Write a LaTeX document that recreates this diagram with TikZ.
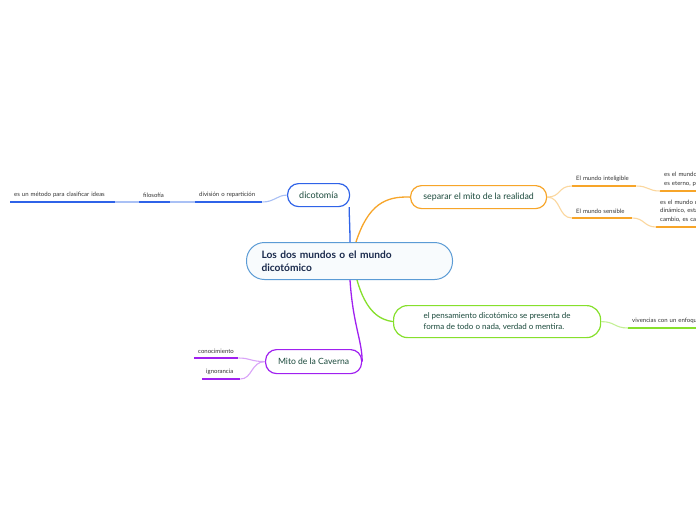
\documentclass[tikz,border=0pt]{standalone}
\usepackage{fontspec}
\setmainfont{Lato}
\definecolor{cblue}{HTML}{2F63E8}
\definecolor{cblueL}{HTML}{A9C0F5}
\definecolor{cmain}{HTML}{5B9BD5}
\definecolor{corange}{HTML}{F7A529}
\definecolor{corangeL}{HTML}{FBD79E}
\definecolor{cgreen}{HTML}{86E02C}
\definecolor{cgreenL}{HTML}{C4F096}
\definecolor{cpurple}{HTML}{A020F0}
\definecolor{cpurpleL}{HTML}{D9A3F8}
\definecolor{ctext}{HTML}{1B4A3C}
\definecolor{cnavy}{HTML}{1A2A4C}
\begin{document}
\begin{tikzpicture}[x=1pt,y=-1pt,
  topic/.style={draw, line width=1.2pt, rounded corners=11pt, fill=white, text=ctext, font=\fontsize{8.8}{10}\selectfont, inner xsep=8pt, inner ysep=0pt, align=left},
  leaf/.style={anchor=south west, inner xsep=4pt, inner ysep=4.5pt, font=\fontsize{6}{8.6}\selectfont, text=black!80, align=left, text width=#1},
  ul/.style={line width=1.8pt},
  conn/.style={line width=1.1pt},
  mconn/.style={line width=1.3pt}]
\useasboundingbox (0,0) rectangle (696,520);
\clip (0,0) rectangle (696,520);
\fill[white] (0,0) rectangle (696,520);

% central
\node[draw=cmain, line width=1pt, rounded corners=18pt, fill=cmain!4, text=cnavy, font=\fontsize{10.2}{13}\selectfont\bfseries, minimum width=206pt, minimum height=37pt, text width=176pt, align=left, anchor=north west, inner xsep=15pt] (c) at (246,242) {Los dos mundos o el mundo\\dicotómico};

% main topics
\node[topic, draw=cblue, minimum width=62pt, minimum height=23pt, anchor=north west, font=\fontsize{9}{10}\selectfont] (dic) at (287,183) {dicotomía};
\node[topic, draw=corange, minimum width=136pt, minimum height=23pt, anchor=north west] (sep) at (410,185) {separar el mito de la realidad};
\node[topic, draw=cgreen, minimum width=207pt, minimum height=32pt, anchor=north west, inner xsep=15pt, rounded corners=14pt, font=\fontsize{8}{11}\selectfont] (gre) at (393,305) {el pensamiento dicotómico se presenta de\\forma de todo o nada, verdad o mentira.};
\node[topic, draw=cpurple, minimum width=96pt, minimum height=24pt, anchor=north west, font=\fontsize{8.6}{10}\selectfont] (mito) at (265,349) {Mito de la Caverna};

% main connectors
\draw[mconn, cblue] ([xshift=104pt]c.north west) .. controls +(0,-15) and +(0,10) .. ([xshift=-1pt]dic.south east);
\draw[mconn, corange] ([xshift=110pt]c.north west) .. controls (368,205) and (385,196) .. (sep.west);
\draw[mconn, cgreen] ([xshift=111pt]c.south west) .. controls (366,312) and (380,320) .. (gre.west);
\draw[mconn, cpurple] ([xshift=104pt]c.south west) .. controls (353,325) and (362,340) .. (mito.east);

% dicotomia leaves
\node[leaf=59pt] (l1) at (195,202) {división o repartición};
\node[leaf=23pt] (l2) at (139,202) {filosofía};
\node[leaf=97pt] (l3) at (10,202) {es un método para clasificar ideas};
\foreach \n in {l1,l2,l3} \draw[ul, cblue] (\n.south west) -- (\n.south east);
\draw[conn, cblueL] (l1.south east) .. controls +(12,0) and +(-10,0) .. (dic.west);
\draw[conn, cblueL, line width=1.6pt] (l2.south east) -- (l1.south west);
\draw[conn, cblueL, line width=1.6pt] (l3.south east) -- (l2.south west);

% separar leaves
\node[leaf=56pt] (s1) at (572,186) {El mundo inteligible};
\node[leaf=52pt] (s2) at (572,218) {El mundo sensible};
\foreach \n in {s1,s2} \draw[ul, corange] (\n.south west) -- (\n.south east);
\draw[conn, corangeL] (sep.east) .. controls +(14,0) and +(-14,0) .. (s1.south west);
\draw[conn, corangeL] (sep.east) .. controls +(14,0) and +(-14,0) .. (s2.south west);
\node[leaf=110pt] (s1a) at (660,191) {es el mundo de las ideas, es\\es eterno, perfecto e inmutable};
\node[leaf=110pt] (s2a) at (656,227) {es el mundo de los sentidos, es\\dinámico, está en constante\\cambio, es cambiante};
\foreach \n in {s1a,s2a} \draw[ul, corange] (\n.south west) -- (\n.south east);
\draw[conn, corangeL] (s1.south east) .. controls +(12,0) and +(-12,0) .. (s1a.south west);
\draw[conn, corangeL] (s2.south east) .. controls +(12,0) and +(-12,0) .. (s2a.south west);

% green leaf
\node[leaf=110pt] (g1) at (628,328) {vivencias con un enfoque extremo};
\draw[ul, cgreen] (g1.south west) -- (g1.south east);
\draw[conn, cgreenL] (gre.east) .. controls +(14,0) and +(-14,0) .. (g1.south west);

% mito leaves
\node[leaf=36pt] (m1) at (194,358) {conocimiento};
\node[leaf=30pt] (m2) at (202,379) {ignorancia};
\foreach \n in {m1,m2} \draw[ul, cpurple] (\n.south west) -- (\n.south east);
\draw[conn, cpurpleL] (mito.west) .. controls +(-14,0) and +(12,0) .. (m1.south east);
\draw[conn, cpurpleL] (mito.west) .. controls +(-14,0) and +(12,0) .. (m2.south east);
\end{tikzpicture}
\end{document}
